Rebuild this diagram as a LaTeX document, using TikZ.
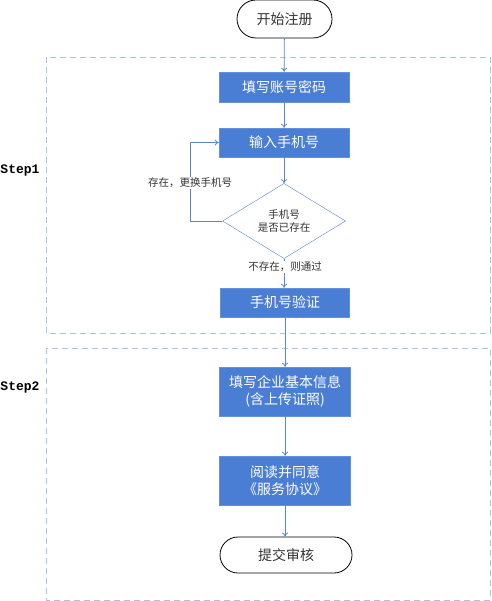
\documentclass[tikz,border=0pt]{standalone}
\usepackage{fontspec}
\newfontfamily\cjk{Noto Sans CJK SC}
\newfontfamily\stepfont{Liberation Mono}
\usetikzlibrary{shapes.geometric,shapes.misc,arrows.meta}
\definecolor{boxfill}{RGB}{74,126,212}
\definecolor{boxedge}{RGB}{100,145,215}
\definecolor{conn}{RGB}{90,135,200}
\definecolor{frame}{RGB}{170,195,225}
\tikzset{
  procbox/.style={draw=boxedge, fill=boxfill, text=white, minimum width=130pt, inner sep=0pt, font=\cjk\fontsize{14}{17}\selectfont, align=center},
  termbox/.style={draw=black, rounded rectangle, line width=0.8pt, inner sep=0pt, font=\cjk\fontsize{14}{17}\selectfont, text=black!80},
  decbox/.style={draw=conn, diamond, inner sep=0pt, minimum width=123pt, minimum height=56pt, font=\cjk\fontsize{10.5}{13}\selectfont, align=center, text=black!80},
  lbl/.style={fill=white, inner sep=1pt, font=\cjk\fontsize{10.5}{13}\selectfont, text=black!80},
  conline/.style={draw=conn, line width=0.8pt, -{To[length=4pt,width=6pt]}},
  groupframe/.style={draw=frame, line width=0.9pt, dash pattern=on 6pt off 4pt},
  steplbl/.style={font=\stepfont\bfseries\fontsize{13}{15}\selectfont, text=black}
}
\begin{document}
\begin{tikzpicture}[x=1pt,y=-1pt]
\useasboundingbox (0,0) rectangle (491,601);
\fill[white] (0,0) rectangle (491,601);
% group frames
\draw[groupframe] (46,57) rectangle (490,333);
\draw[groupframe] (46,348) rectangle (490,600);
\node[steplbl] (s1) at (20,171) {Step1};
\node[steplbl] (s2) at (20,387) {Step2};
% nodes
\node[termbox, minimum width=95pt, minimum height=38pt] (start) at (284.5,19) {开始注册};
\node[procbox, minimum height=30pt] (b1) at (284,87) {填写账号密码};
\node[procbox, minimum height=29pt] (b2) at (284,142.5) {输入手机号};
\node[decbox] (d) at (284,221) {手机号\\是否已存在};
\node[procbox, minimum width=129pt, minimum height=29pt] (b3) at (285,302.5) {手机号验证};
\node[procbox, minimum width=131pt, minimum height=49pt] (b4) at (285,391.5) {填写企业基本信息\\(含上传证照)};
\node[procbox, minimum width=131pt, minimum height=49pt] (b5) at (285,480.5) {阅读并同意\\《服务协议》};
\node[termbox, minimum width=132pt, minimum height=36pt] (end) at (286,555) {提交审核};
\coordinate (lb) at (190,221);
\coordinate (lt) at (190,142.5);
% connectors
\draw[conline] (start) -- (b1);
\draw[conline] (b1) -- (b2);
\draw[conline] (b2) -- (d);
\draw[conline] (d.south) -- (b3.north -| d.south);
\draw[conline] (d.west) -- (lb) -- (lt) -- (b2.west);
\draw[conline] (b3) -- (b4);
\draw[conline] (b4) -- (b5);
\draw[conline] (b5.south) -- (end.north -| b5.south);
% labels
\node[lbl] (l1) at (190,183) {存在，更换手机号};
\node[lbl] (l2) at (285,267) {不存在，则通过};
\end{tikzpicture}
\end{document}
